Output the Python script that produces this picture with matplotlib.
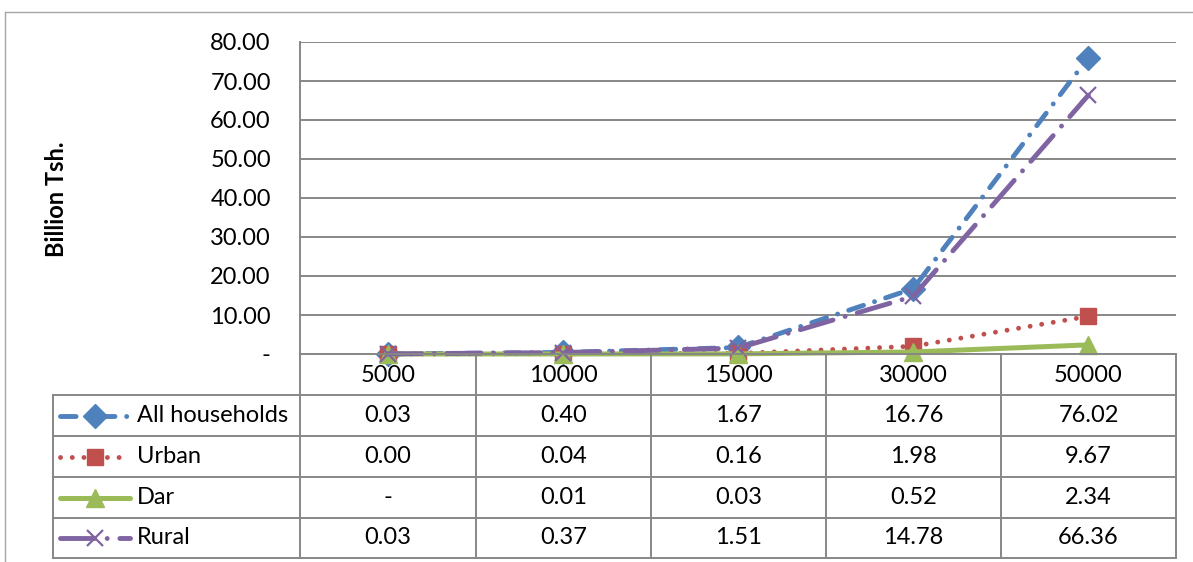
import matplotlib
matplotlib.use("Agg")
import matplotlib.pyplot as plt
from matplotlib.lines import Line2D
from matplotlib.ticker import FuncFormatter

plt.rcParams["font.family"] = ["Lato", "DejaVu Sans"]

W, H = 1193, 562

categories = ["5000", "10000", "15000", "30000", "50000"]
series_names = ["All households", "Urban", "Dar", "Rural"]
all_households = [0.03, 0.40, 1.67, 16.76, 76.02]
urban = [0.002, 0.04, 0.16, 1.98, 9.67]
dar = [0.0, 0.01, 0.03, 0.52, 2.34]
rural = [0.03, 0.37, 1.51, 14.78, 66.36]
y_ticks = [0, 10, 20, 30, 40, 50, 60, 70, 80]

colors = ["#4F81BD", "#C0504D", "#9BBB59", "#8064A2"]
styles = [
    dict(ls=(0, (3.2, 2.4, 0.01, 2.4)), marker="D", ms=12.5, lw=3.5),
    dict(ls=(0, (0.01, 2.4)), marker="s", ms=12, lw=3.5),
    dict(ls="-", marker="^", ms=13, lw=3.6),
    dict(ls=(0, (7, 2.6, 0.01, 2.6)), marker="x", ms=12, lw=3.5, mew=1.6),
]
GRID = "#878787"
FS = 17


def fx(x):
    return x / W


def fy(y):
    return 1 - y / H


def fmt(v):
    return "-" if v == 0 else f"{v:.2f}"


fig = plt.figure(figsize=(W / 100, H / 100), dpi=100)

ax = fig.add_axes([fx(300), fy(354), 876 / W, 312 / H])
x = list(range(len(categories)))
for i, (name, vals) in enumerate(zip(series_names, [all_households, urban, dar, rural])):
    st = styles[i]
    ax.plot(x, vals, color=colors[i], linestyle=st["ls"], lw=st["lw"],
            marker=st["marker"], ms=st["ms"], mew=st.get("mew", 1),
            mec=colors[i], mfc=colors[i], dash_capstyle="round",
            solid_capstyle="round", zorder=3 + i, clip_on=False)

ax.set_xlim(-0.5, len(categories) - 0.5)
ax.set_ylim(0, 80)
ax.set_yticks(y_ticks)
ax.yaxis.set_major_formatter(FuncFormatter(lambda v, p: fmt(v)))
ax.tick_params(axis="y", length=0, pad=21, labelsize=FS)
ax.set_xticks([])
ax.grid(axis="y", color=GRID, lw=1.4)
ax.set_axisbelow(True)
for s in ["top", "right", "bottom"]:
    ax.spines[s].set_visible(False)
ax.spines["left"].set_color(GRID)
ax.spines["left"].set_linewidth(1.4)

fig.text(fx(57), fy(199), "Billion Tsh.", rotation=90, fontsize=17,
         fontweight="bold", ha="center", va="center")


def hline(y, x0, x1, **kw):
    fig.add_artist(Line2D([fx(x0), fx(x1)], [fy(y), fy(y)], **kw))


def vline(x, y0, y1, **kw):
    fig.add_artist(Line2D([fx(x), fx(x)], [fy(y0), fy(y1)], **kw))


# outer chart frame
hline(12, 5, W, color="#a6a6a6", lw=1.0)
vline(5, 12, H, color="#a6a6a6", lw=1.0)

# data table grid
col_edges = [300, 476, 651, 826, 1001, 1176]
row_edges = [395, 436, 477, 518, 558]
hline(354, 300, 1176, color=GRID, lw=1.4)
for y in row_edges:
    hline(y, 53, 1176, color=GRID, lw=1.4)
vline(53, 395, 558, color=GRID, lw=1.4)
vline(300, 354, 558, color=GRID, lw=1.4)
for xe in col_edges[1:]:
    vline(xe, 354, 558, color=GRID, lw=1.4)

col_centers = [(a + b) / 2 for a, b in zip(col_edges[:-1], col_edges[1:])]
for cx, cat in zip(col_centers, categories):
    fig.text(fx(cx), fy(375), cat, fontsize=FS, ha="center", va="center")

for r, (name, vals) in enumerate(zip(series_names, [all_households, urban, dar, rural])):
    cy = (row_edges[r] + row_edges[r + 1]) / 2
    st = styles[r]
    fig.add_artist(Line2D([fx(60), fx(130)], [fy(cy), fy(cy)], color=colors[r],
                          linestyle=st["ls"], lw=st["lw"], dash_capstyle="round",
                          solid_capstyle="round"))
    fig.add_artist(Line2D([fx(95)], [fy(cy)], color=colors[r], marker=st["marker"],
                          ms=st["ms"], mew=st.get("mew", 1), mec=colors[r],
                          mfc=colors[r], linestyle="none"))
    fig.text(fx(137), fy(cy), name, fontsize=FS, ha="left", va="center")
    for cx, v in zip(col_centers, vals):
        fig.text(fx(cx), fy(cy), fmt(v), fontsize=FS, ha="center", va="center")

fig.savefig("out.png", dpi=100)
